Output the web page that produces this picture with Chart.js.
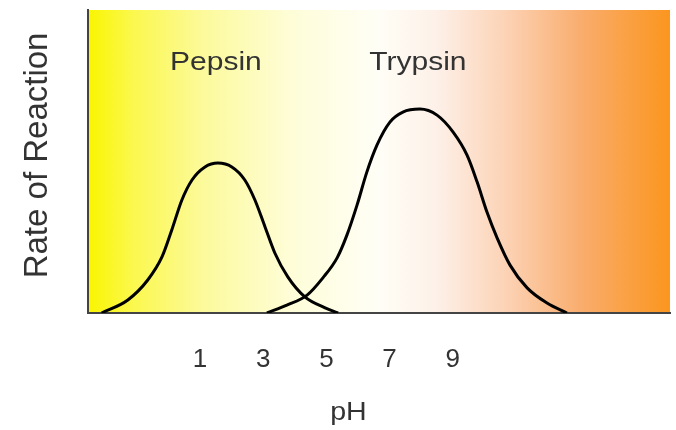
<!DOCTYPE html>
<html>
<head>
<meta charset="utf-8">
<script src="https://cdn.jsdelivr.net/npm/chart.js@4"></script>
<style>
  html, body { margin: 0; padding: 0; background: #fff; }
  #wrap { width: 676px; height: 430px; }
</style>
</head>
<body>
<div id="wrap"><canvas id="phChart"></canvas></div>
<script>
// values (pH vs rate of reaction, 0-100)
const pepsinPH   = [-2.11, -1.28, -0.65, -0.2, 0.11, 0.43, 0.75, 1.16, 1.57, 2.01, 2.42, 2.74, 3.06, 3.37, 3.78, 4.32, 4.96, 5.37];
const pepsinRate = [0, 4.3, 10.9, 18.5, 27.4, 37.3, 43.9, 48.2, 49.5, 48.2, 43.9, 37.3, 28.4, 19.8, 11.9, 5.3, 1.7, 0];

const trypsinPH   = [3.12, 3.75, 4.39, 4.89, 5.34, 5.65, 5.97, 6.28, 6.6, 7.01, 7.42, 7.96, 8.5, 9.01, 9.45, 9.77, 10.08, 10.4, 10.81, 11.35, 11.98, 12.61];
const trypsinRate = [0, 2.6, 5.9, 11.6, 18.2, 25.7, 35.6, 46.5, 55.4, 63, 66.3, 67.3, 65.3, 59.7, 52.1, 43.2, 33.3, 24.8, 15.8, 8.3, 3.3, 0];

const enzymeNames = ["Pepsin", "Trypsin"];
const tickValues = [1, 3, 5, 7, 9];
const xTitle = "pH";
const yTitle = "Rate of Reaction";

const FONT = '"Liberation Sans", Arial, sans-serif';

function toPoints(xs, ys) {
    return xs.map(function (x, i) { return { x: x, y: ys[i] }; });
}

// yellow -> white -> orange wash behind the plot
const bgPlugin = {
    id: "bgWash",
    beforeDraw(chart) {
        const { ctx, chartArea: a } = chart;
        const g = ctx.createLinearGradient(a.left, 0, a.right, 0);
        g.addColorStop(0.0, "#f9f500");
        g.addColorStop(0.08, "#fbf850");
        g.addColorStop(0.2, "#fcfa9c");
        g.addColorStop(0.35, "#fefdd8");
        g.addColorStop(0.5, "#fffef6");
        g.addColorStop(0.6, "#fdf0e8");
        g.addColorStop(0.72, "#fcd2b4");
        g.addColorStop(0.85, "#f9ac6c");
        g.addColorStop(1.0, "#fb961e");
        ctx.save();
        ctx.fillStyle = g;
        ctx.fillRect(a.left, a.top, a.right - a.left, a.bottom - a.top);
        ctx.restore();
    }
};

// enzyme names above each peak, and the two axis captions
const textPlugin = {
    id: "chartTexts",
    afterDraw(chart) {
        const { ctx, scales } = chart;
        ctx.save();
        ctx.fillStyle = "#333";
        ctx.textAlign = "center";
        ctx.textBaseline = "middle";
        ctx.font = "25px " + FONT;
        chart.data.datasets.forEach(function (ds, i) {
            let peak = ds.data[0];
            ds.data.forEach(function (p) { if (p.y > peak.y) peak = p; });
            const px = scales.x.getPixelForValue(peak.x) - 2;
            const py = scales.y.getPixelForValue(82.5);
            ctx.save();
            ctx.translate(px, py);
            ctx.scale(1.2, 1);
            ctx.fillText(enzymeNames[i], 0, 0);
            ctx.restore();
        });

        ctx.font = "26px " + FONT;
        ctx.save();
        ctx.translate(scales.x.getPixelForValue(5.7), scales.x.bottom - 17);
        ctx.scale(1.1, 1);
        ctx.fillText(xTitle, 0, 0);
        ctx.restore();

        ctx.font = "33px " + FONT;
        ctx.save();
        ctx.translate(38, scales.y.getPixelForValue(52));
        ctx.rotate(-Math.PI / 2);
        ctx.fillText(yTitle, 0, 0);
        ctx.restore();
        ctx.restore();
    }
};

const lineStyle = {
    borderColor: "#000",
    borderWidth: 3,
    pointRadius: 0,
    cubicInterpolationMode: "monotone",
    fill: false
};

new Chart(document.getElementById("phChart"), {
    type: "line",
    data: {
        datasets: [
            Object.assign({ label: enzymeNames[0], data: toPoints(pepsinPH, pepsinRate) }, lineStyle),
            Object.assign({ label: enzymeNames[1], data: toPoints(trypsinPH, trypsinRate) }, lineStyle)
        ]
    },
    options: {
        responsive: true,
        maintainAspectRatio: false,
        animation: false,
        layout: { padding: { top: 10, right: 6, left: 0, bottom: 0 } },
        plugins: {
            legend: { display: false },
            tooltip: { enabled: false }
        },
        scales: {
            x: {
                type: "linear",
                min: -2.54,
                max: 15.87,
                afterBuildTicks: function (scale) {
                    scale.ticks = tickValues.map(function (v) { return { value: v }; });
                },
                afterFit: function (scale) { scale.height = 117; },
                grid: { display: false, drawTicks: false },
                border: { display: true, color: "#444", width: 2 },
                ticks: {
                    autoSkip: false,
                    maxRotation: 0,
                    padding: 31,
                    color: "#333",
                    font: { family: FONT, size: 26 }
                },
                title: { display: false, text: xTitle }
            },
            y: {
                min: 0,
                max: 100,
                afterFit: function (scale) { scale.width = 88; },
                grid: { display: false, drawTicks: false },
                border: { display: true, color: "#444", width: 2 },
                ticks: { display: false },
                title: { display: false, text: yTitle }
            }
        }
    },
    plugins: [bgPlugin, textPlugin]
});
</script>
</body>
</html>
